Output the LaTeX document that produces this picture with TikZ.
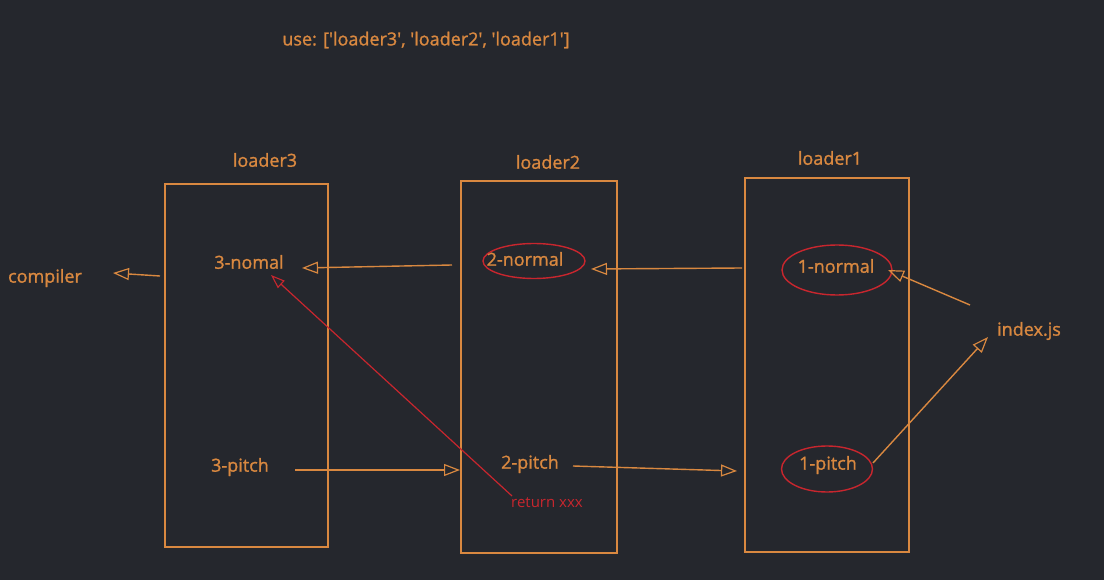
\documentclass[tikz,border=0pt]{standalone}
\usepackage{fontspec}
\setmainfont{Open Sans}[Ligatures=TeXOff]
\newfontfamily\lblfont{Open Sans}[Ligatures=TeXOff, FakeBold=1.2]
\usetikzlibrary{arrows.meta,shapes.geometric}
\definecolor{bg}{HTML}{25272D}
\definecolor{org}{HTML}{D98840}
\definecolor{rd}{HTML}{C8262E}
\tikzset{
  lbl/.style={text=org, font=\lblfont\fontsize{18}{20}\selectfont, inner sep=1pt},
  loaderbox/.style={draw=org, line width=1.6pt, anchor=north west, inner sep=0pt},
  arr/.style={draw=org, line width=1.4pt, -{Triangle[open, length=16pt, width=12pt, line width=1.2pt]}},
  redarr/.style={draw=rd, line width=1.2pt, -{Triangle[open, length=14pt, width=10pt, line width=1.1pt]}},
  ring/.style={draw=rd, line width=1.4pt, ellipse, inner sep=0pt},
}
\begin{document}
\begin{tikzpicture}[x=1pt,y=-1pt]
\fill[bg] (0,0) rectangle (1104,580);
\useasboundingbox (0,0) rectangle (1104,580);

\node[lbl] (use) at (426,40) {use: ['loader3', 'loader2', 'loader1']};

% loader boxes
\node[loaderbox, minimum width=163pt, minimum height=363pt] (b3) at (164,183) {};
\node[loaderbox, minimum width=156pt, minimum height=372pt] (b2) at (460,180) {};
\node[loaderbox, minimum width=164pt, minimum height=374pt] (b1) at (744,177) {};
\node[lbl] (t3) at (265,160) {loader3};
\node[lbl] (t2) at (548,162) {loader2};
\node[lbl] (t1) at (830,158) {loader1};

% ellipses
\node[ring, minimum width=102pt, minimum height=35pt] (e2n) at (534,261) {};
\node[ring, minimum width=110pt, minimum height=50pt] (e1n) at (837,270) {};
\node[ring, minimum width=91pt, minimum height=46pt] (e1p) at (827,469) {};

% labels
\node[lbl] (compiler) at (45,278) {compiler};
\node[lbl] (n3) at (249,262) {3-nomal};
\node[lbl] (n2) at (525,259) {2-normal};
\node[lbl] (n1) at (836,266) {1-normal};
\node[lbl] (idx) at (1029,331) {index.js};
\node[lbl] (p3) at (240,467) {3-pitch};
\node[lbl] (p2) at (530,464) {2-pitch};
\node[lbl] (p1) at (828,465) {1-pitch};
\node[text=rd, font=\fontsize{15}{17}\selectfont, inner sep=1pt] (ret) at (547,503) {return xxx};

% connector end points
\coordinate (c1) at (160,276);
\coordinate (c1e) at (113,273);
\coordinate (c2) at (452,265);
\coordinate (c2e) at (302,268);
\coordinate (c3) at (742,268);
\coordinate (c3e) at (591,269);
\coordinate (c4) at (970,305);
\coordinate (c4e) at (888,270);
\coordinate (c5) at (873,463);
\coordinate (c5e) at (988,337);
\coordinate (c6) at (295,470);
\coordinate (c6e) at (460,470);
\coordinate (c7) at (573,466);
\coordinate (c7e) at (737,471);
\coordinate (r1) at (512,496);
\coordinate (r1e) at (271,275);

\draw[arr] (c1) -- (c1e);
\draw[arr] (c2) -- (c2e);
\draw[arr] (c3) -- (c3e);
\draw[arr] (c4) -- (c4e);
\draw[arr] (c5) -- (c5e);
\draw[arr] (c6) -- (c6e);
\draw[arr] (c7) -- (c7e);
\draw[redarr] (r1) -- (r1e);
\end{tikzpicture}
\end{document}
